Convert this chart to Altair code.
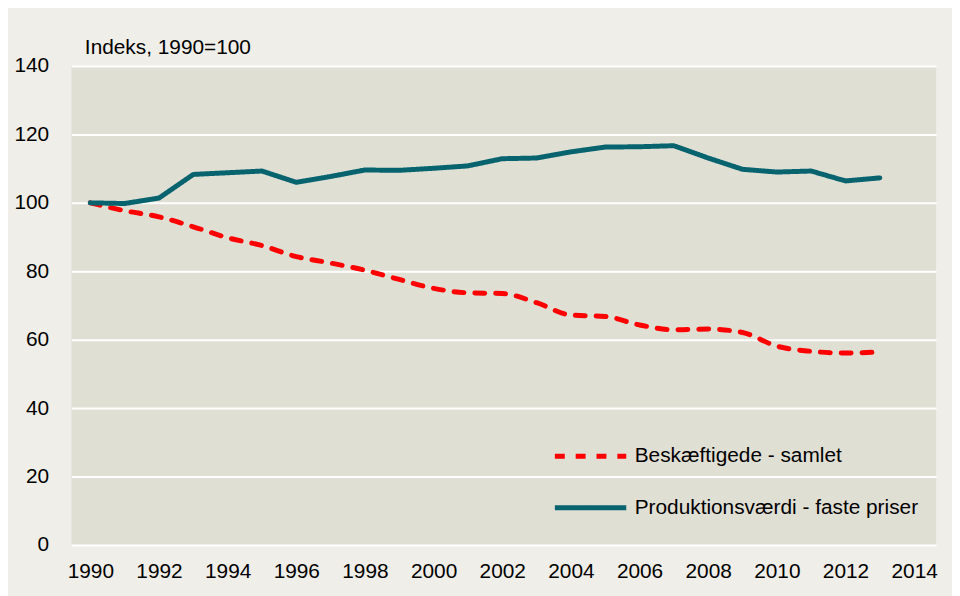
import altair as alt
import pandas as pd

years = list(range(1990, 2014))
beskaeftigede = [100, 97.7, 95.9, 93.0, 89.8, 87.5, 84.3, 82.4, 80.3, 77.6,
                 75.0, 73.7, 73.5, 70.8, 67.2, 66.8, 64.3, 62.9, 63.1, 62.1,
                 58.1, 56.6, 56.1, 56.4]
produktion = [100, 99.8, 101.4, 108.3, 108.8, 109.3, 106.0, 107.7, 109.6, 109.5,
              110.1, 110.8, 112.9, 113.1, 114.9, 116.3, 116.4, 116.7, 113.1, 109.8,
              109.0, 109.3, 106.4, 107.3]
series_names = ["Beskæftigede - samlet", "Produktionsværdi - faste priser"]
series_colors = ["#FF0000", "#07646F"]
x_ticks = list(range(1990, 2015, 2))
y_ticks = list(range(0, 141, 20))

rows = []
for y, v in zip(years, beskaeftigede):
    rows.append({"year": y, "value": v, "series": series_names[0]})
for y, v in zip(years, produktion):
    rows.append({"year": y, "value": v, "series": series_names[1]})
df = pd.DataFrame(rows)

FONT = "Liberation Sans"
FS = 21

base = alt.Chart(df).encode(
    x=alt.X("year:Q",
            scale=alt.Scale(domain=[1989.45, 2014.64], nice=False, zero=False),
            axis=alt.Axis(values=x_ticks, format="d", title=None, grid=False,
                          domain=False, ticks=False, labelFontSize=FS,
                          labelPadding=16, labelColor="#000000", labelFont=FONT)),
    y=alt.Y("value:Q",
            scale=alt.Scale(domain=[0, 140], nice=False),
            axis=alt.Axis(values=y_ticks, title="Indeks, 1990=100", titleAngle=0,
                          titleAlign="left", titleBaseline="middle", titleX=13, titleY=-19,
                          titleFont=FONT, titleFontSize=FS, titleFontWeight="normal",
                          titleColor="#000000",
                          grid=True, gridColor="#FFFFFF", gridWidth=2,
                          domain=False, ticks=False, labelFontSize=FS, labelPadding=23,
                          labelColor="#000000", labelFont=FONT)),
    color=alt.Color("series:N", scale=alt.Scale(domain=series_names, range=series_colors),
                    legend=alt.Legend(title=None)),
    strokeDash=alt.StrokeDash("series:N",
                              scale=alt.Scale(domain=series_names, range=[[10, 11], [1, 0]]),
                              legend=alt.Legend(title=None)),
)

red = base.transform_filter(alt.datum.series == series_names[0]).mark_line(
    interpolate="monotone", strokeWidth=5, strokeCap="round")
teal = base.transform_filter(alt.datum.series == series_names[1]).mark_line(
    strokeWidth=5, strokeCap="round", strokeJoin="round")

chart = alt.layer(red, teal).properties(
    width=872, height=483,
    autosize=alt.AutoSizeParams(type="none"),
    padding={"left": 64, "top": 56, "right": 16, "bottom": 49},
    background="#EFEEE8",
).configure_view(
    fill="#E0DFD4", stroke=None
).configure_legend(
    orient="none", legendX=485, legendY=355,
    symbolType="stroke", symbolSize=5184, symbolStrokeWidth=5,
    labelFontSize=FS, labelFont=FONT, labelColor="#000000", labelLimit=500,
    rowPadding=3, labelOffset=6, padding=0,
)

chart.save("out.html", embed_options={"renderer": "svg", "actions": False})
